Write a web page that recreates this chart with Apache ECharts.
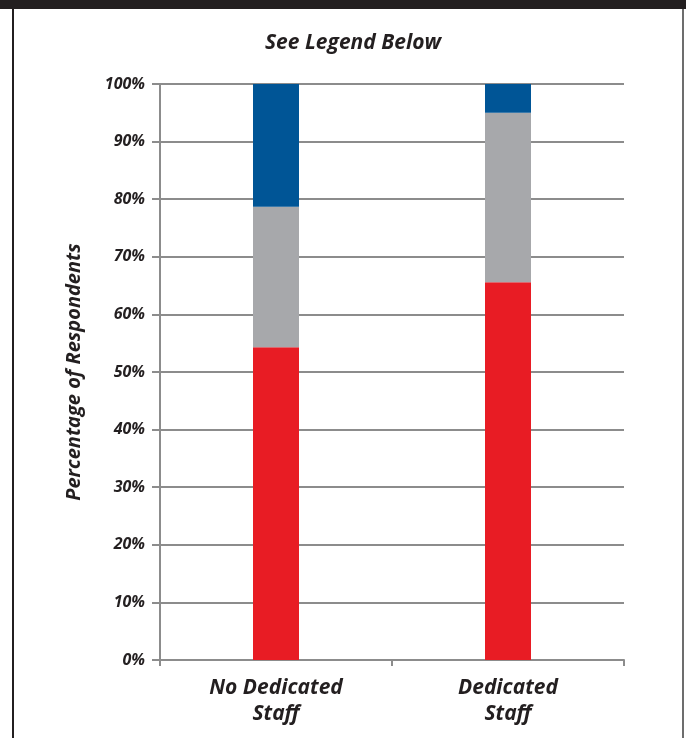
<!DOCTYPE html>
<html>
<head>
<meta charset="utf-8">
<script src="https://cdn.jsdelivr.net/npm/echarts@6/dist/echarts.min.js"></script>
<style>
  html, body { margin: 0; padding: 0; background: #fff; }
  #chart { width: 686px; height: 738px; }
</style>
</head>
<body>
<div id="chart"></div>
<script>
// data
var categories = ['No Dedicated\nStaff', 'Dedicated\nStaff']
var redValues = [54.3, 65.6]
var grayValues = [24.4, 29.4]
var blueValues = [21.3, 5.0]

var font = 'Open Sans'
var axisGray = '#8c8c8c'

var myChart = echarts.init(document.getElementById('chart'))

var option = {
    animation: false,
    title: {
        text: 'See Legend Below',
        left: 348,
        top: 28,
        textAlign: 'center',
        textStyle: {
            fontFamily: font,
            fontSize: 21,
            fontWeight: 'bold',
            fontStyle: 'italic',
            color: '#231f20'
        }
    },
    graphic: [
        // black band on top
        { type: 'rect', shape: { x: 0, y: 0, width: 686, height: 9 }, style: { fill: '#231f20' } },
        // frame sides
        { type: 'rect', shape: { x: 12, y: 9, width: 2, height: 729 }, style: { fill: '#231f20' } },
        { type: 'rect', shape: { x: 682, y: 9, width: 2, height: 729 }, style: { fill: '#6d6d6d' } }
    ],
    grid: {
        left: 160,
        right: 62,
        top: 84,
        bottom: 78,
        containLabel: false
    },
    xAxis: {
        type: 'category',
        data: categories,
        axisLine: { lineStyle: { color: axisGray, width: 2 } },
        axisTick: { show: true, length: 6, lineStyle: { color: axisGray, width: 2 } },
        axisLabel: {
            margin: 15,
            fontFamily: font,
            fontSize: 21,
            fontWeight: 'bold',
            fontStyle: 'italic',
            color: '#231f20',
            lineHeight: 26
        }
    },
    yAxis: {
        type: 'value',
        min: 0,
        max: 100,
        interval: 10,
        name: 'Percentage of Respondents',
        nameLocation: 'middle',
        nameGap: 76,
        nameTextStyle: {
            fontFamily: font,
            fontSize: 20,
            fontWeight: 'bold',
            fontStyle: 'italic',
            color: '#231f20'
        },
        axisLine: { show: true, lineStyle: { color: axisGray, width: 2 } },
        axisTick: { show: true, length: 8, lineStyle: { color: axisGray, width: 2 } },
        splitLine: { lineStyle: { color: axisGray, width: 2 } },
        axisLabel: {
            margin: 15,
            formatter: '{value}%',
            fontFamily: font,
            fontSize: 16,
            fontWeight: 'bold',
            fontStyle: 'italic',
            color: '#231f20'
        }
    },
    series: [
        { type: 'bar', stack: 'all', data: redValues, barWidth: 46, itemStyle: { color: '#e81c24' } },
        { type: 'bar', stack: 'all', data: grayValues, barWidth: 46, itemStyle: { color: '#a7a8ab' } },
        { type: 'bar', stack: 'all', data: blueValues, barWidth: 46, itemStyle: { color: '#005596' } }
    ]
}

myChart.setOption(option)
</script>
</body>
</html>
